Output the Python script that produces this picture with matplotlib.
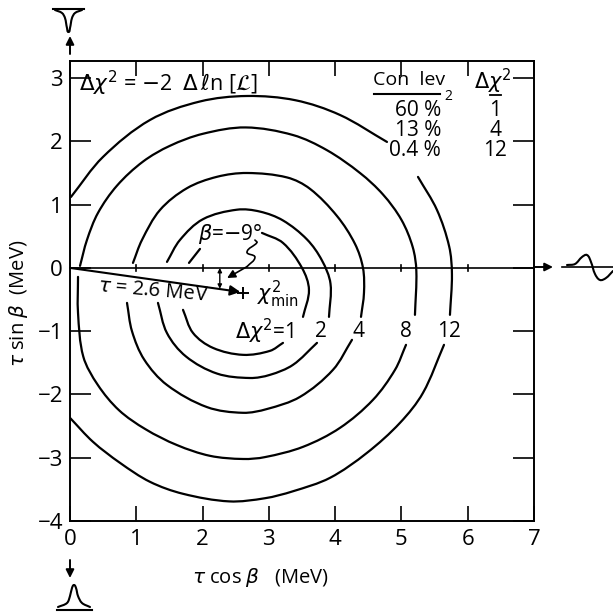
import numpy as np
import matplotlib
matplotlib.use("Agg")
import matplotlib.pyplot as plt
from matplotlib.path import Path
from matplotlib.patches import PathPatch

plt.rcParams['font.family'] = ['Open Sans', 'DejaVu Sans']
plt.rcParams['mathtext.fontset'] = 'dejavusans'

# contours, each one split where the print leaves a gap for a label
c12_x = [0.015, 0.498, 1.207, 1.96, 2.67, 3.40, 4.073, 4.782]
c12_y = [1.122, 1.754, 2.338, 2.63, 2.717, 2.65, 2.417, 1.991]
c12b_x = [5.25, 5.536, 5.72, 5.762, 5.732]
c12b_y = [1.438, 0.916, 0.34, -0.10, -0.742]
c12c_x = [5.642, 5.325, 4.978, 4.48, 3.922, 3.364, 2.942, 2.40, 1.705, 1.207, 0.754, 0.347, 0.0]
c12c_y = [-1.216, -1.975, -2.449, -2.923, -3.318, -3.53, -3.64, -3.69, -3.57, -3.381, -3.081, -2.749, -2.37]

c8_x = [0.151, 0.256, 0.422, 0.709, 1.101, 1.508, 2.006, 2.65, 3.364, 3.877, 4.375, 4.722, 5.00, 5.17, 5.225, 5.204]
c8_y = [0.032, 0.442, 0.869, 1.30, 1.68, 1.93, 2.12, 2.22, 2.10, 1.86, 1.50, 1.16, 0.76, 0.33, -0.05, -0.742]
c8b_x = [5.069, 4.903, 4.571, 4.073, 3.515, 2.942, 2.61, 2.112, 1.614, 1.14, 0.74, 0.42, 0.20, 0.121, 0.121]
c8b_y = [-1.216, -1.611, -2.085, -2.528, -2.828, -2.99, -3.02, -2.97, -2.80, -2.55, -2.25, -1.85, -1.40, -0.711, -0.142]

c4_x = [0.95, 1.086, 1.358, 1.765, 2.218, 2.67, 3.273, 3.62, 4.028, 4.299, 4.42, 4.435, 4.39]
c4_y = [0.079, 0.442, 0.916, 1.26, 1.44, 1.50, 1.43, 1.25, 0.82, 0.38, 0.0, -0.395, -0.774]
c4b_x = [4.254, 3.967, 3.47, 2.972, 2.61, 2.067, 1.463, 1.12, 0.935, 0.86]
c4b_y = [-1.137, -1.611, -2.038, -2.23, -2.29, -2.20, -1.85, -1.45, -1.0, -0.553]

c2_x = [1.463, 1.659, 2.006, 2.519, 2.866, 3.213, 3.575, 3.80, 3.93, 3.907]
c2_y = [0.095, 0.442, 0.77, 0.92, 0.89, 0.75, 0.45, 0.12, -0.25, -0.774]
c2b_x = [3.726, 3.364, 3.017, 2.715, 2.218, 1.75, 1.463, 1.327]
c2b_y = [-1.185, -1.532, -1.69, -1.74, -1.67, -1.40, -1.03, -0.553]

c1_x = [1.795, 1.961]
c1_y = [0.079, 0.30]
c1b_x = [2.896, 3.213, 3.50, 3.605, 3.515]
c1b_y = [0.553, 0.395, 0.0, -0.348, -0.774]
c1c_x = [3.213, 3.017, 2.61, 2.157, 1.855, 1.705]
c1c_y = [-1.185, -1.311, -1.374, -1.264, -1.027, -0.663]

contours = [(c12_x, c12_y), (c12b_x, c12b_y), (c12c_x, c12c_y), (c8_x, c8_y), (c8b_x, c8b_y),
            (c4_x, c4_y), (c4b_x, c4b_y), (c2_x, c2_y), (c2b_x, c2b_y),
            (c1_x, c1_y), (c1b_x, c1b_y), (c1c_x, c1c_y)]

contour_names = ['2', '4', '8', '12']
contour_label_x = [3.79, 4.35, 5.07, 5.72]

squiggle_x = [2.79, 2.82, 2.67, 2.79, 2.67, 2.37]
squiggle_y = [0.44, 0.40, 0.25, 0.17, 0.02, -0.16]

xticks = [0, 1, 2, 3, 4, 5, 6, 7]
yticks = [-4, -3, -2, -1, 0, 1, 2, 3]
levels = ['60 %', '13 %', '0.4 %']
dchi = ['1', '4', '12']

# little line shapes outside the frame, in picture pixels
dip_x = [55, 62, 65, 67, 68.5, 70, 72, 75, 82]
dip_y = [10, 13, 18, 28, 32, 28, 18, 13, 10]
wave_x = [567, 575, 582, 587, 591, 595, 600, 606, 613]
wave_y = [265, 264, 257, 255, 262, 274, 280, 278, 271]
bump_x = [58, 67, 70, 72, 74, 76, 78, 82, 90]
bump_y = [607, 603, 596, 588, 585, 588, 596, 603, 607]


def smooth(ax, xs, ys, lw=1.6, **kw):
    # bezier segments through the read points, handles scaled to each segment's length
    p = np.column_stack([xs, ys]).astype(float)
    if len(p) < 3:
        ax.plot(xs, ys, color='k', lw=lw, solid_capstyle='round', **kw)
        return
    tang = np.gradient(p, axis=0)
    tang[1:-1] = p[2:] - p[:-2]
    tang /= np.linalg.norm(tang, axis=1, keepdims=True)
    verts = [p[0]]
    codes = [Path.MOVETO]
    for i in range(len(p) - 1):
        h = np.linalg.norm(p[i + 1] - p[i]) / 3
        verts += [p[i] + tang[i] * h, p[i + 1] - tang[i + 1] * h, p[i + 1]]
        codes += [Path.CURVE4] * 3
    ax.add_patch(PathPatch(Path(verts, codes), fc='none', ec='k', lw=lw, capstyle='round', **kw))


fig = plt.figure(figsize=(6.13, 6.14), dpi=100)
ax = fig.add_axes([70 / 613, 93 / 614, 464 / 613, 460 / 614])
ax.set_xlim(0, 7)
ax.set_ylim(-4, 3.27)

for s in ax.spines.values():
    s.set_linewidth(1.4)

ax.set_xticks(xticks)
ax.set_yticks(yticks)
ax.tick_params(axis='x', direction='in', length=11, width=1.2, labelsize=16, pad=6, top=True)
ax.tick_params(axis='y', direction='in', length=15, width=1.2, labelsize=16, pad=5, right=True)
ax.set_yticklabels([str(v).replace('-', '\u2212') for v in yticks])
ax.set_xlabel(r'$\tau$ cos $\beta$   (MeV)', fontsize=14.5)
ax.set_ylabel(r'$\tau$ sin $\beta$  (MeV)', fontsize=14.5)
ax.xaxis.set_label_coords(0.41, -0.098)
ax.yaxis.set_label_coords(-0.087, 0.474)

ax.axhline(0, color='k', lw=1.2)
for t in xticks[1:-1]:
    ax.plot([t, t], [-0.05, 0.05], color='k', lw=1.2)

for xs, ys in contours:
    smooth(ax, xs, ys)

# tau vector and the chi2 minimum
ax.annotate('', xy=(2.57, -0.38), xytext=(0, 0),
            arrowprops=dict(arrowstyle='-|>', color='k', lw=1.5, mutation_scale=15, shrinkA=0, shrinkB=0))
ax.plot([2.61], [-0.40], marker='+', ms=9, mew=1.4, color='k')
ax.annotate('', xy=(2.26, 0), xytext=(2.26, -0.33),
            arrowprops=dict(arrowstyle='<|-|>', color='k', lw=1, mutation_scale=6, shrinkA=0, shrinkB=0))
smooth(ax, squiggle_x[:-1], squiggle_y[:-1], lw=1.2)
ax.annotate('', xy=(squiggle_x[-1], squiggle_y[-1]), xytext=(squiggle_x[-2], squiggle_y[-2]),
            arrowprops=dict(arrowstyle='-|>', color='k', lw=1.2, mutation_scale=12, shrinkA=0, shrinkB=0))

ax.text(0.14, 2.92, r'$\Delta\chi^2$ = $-$2  $\Delta\,\ell$n [$\mathcal{L}$]', fontsize=15.5, va='center')
ax.text(1.25, -0.36, r'$\tau$ = 2.6 MeV', fontsize=14.5, rotation=-5, ha='center', va='center')
ax.text(2.82, -0.42, r'$\chi^2_{\mathrm{min}}$', fontsize=15, va='center')
ax.text(1.93, 0.53, r'$\beta$=$-$9°', fontsize=15, va='center')
ax.text(2.94, -1.0, r'$\Delta\chi^2$=1', fontsize=15, ha='center', va='center')
for name, xp in zip(contour_names, contour_label_x):
    ax.text(xp, -1.0, name, fontsize=15, ha='center', va='center')

# overlay in pixels for the table and the small shapes around the frame
ov = fig.add_axes([0, 0, 1, 1], facecolor='none')
ov.set_xlim(0, 613)
ov.set_ylim(614, 0)
ov.axis('off')

ov.text(373, 80, 'Con  lev', fontsize=14, va='center')
ov.plot([374, 440], [94, 94], color='k', lw=1.5)
ov.text(448, 96, '2', fontsize=10, ha='center', va='center')
ov.text(493, 81, r'$\Delta\chi^2$', fontsize=15, ha='center', va='center')
ov.plot([490, 501], [95, 95], color='k', lw=1.3)
for yp, lev, d in zip([110, 130, 151], levels, dchi):
    ov.text(441, yp, lev, fontsize=15, ha='right', va='center')
    ov.text(495, yp, d, fontsize=15, ha='center', va='center')

# dip above, wave on the right, bump below
smooth(ov, dip_x, dip_y, lw=1.5)
ov.plot([53, 84], [9, 9], color='k', lw=1.5)
smooth(ov, wave_x, wave_y, lw=1.5)
ov.plot([562, 613], [267, 267], color='k', lw=1.2)
smooth(ov, bump_x, bump_y, lw=1.5)
ov.plot([57, 92], [610, 610], color='k', lw=1.5)
for start, end in [((70, 54), (70, 36)), ((534, 267), (553, 267)), ((70, 560), (70, 578))]:
    ov.annotate('', xy=end, xytext=start,
                arrowprops=dict(arrowstyle='-|>', color='k', lw=1.4, mutation_scale=12, shrinkA=0, shrinkB=0))

fig.savefig('out.png', dpi=100)
plt.close('all')
